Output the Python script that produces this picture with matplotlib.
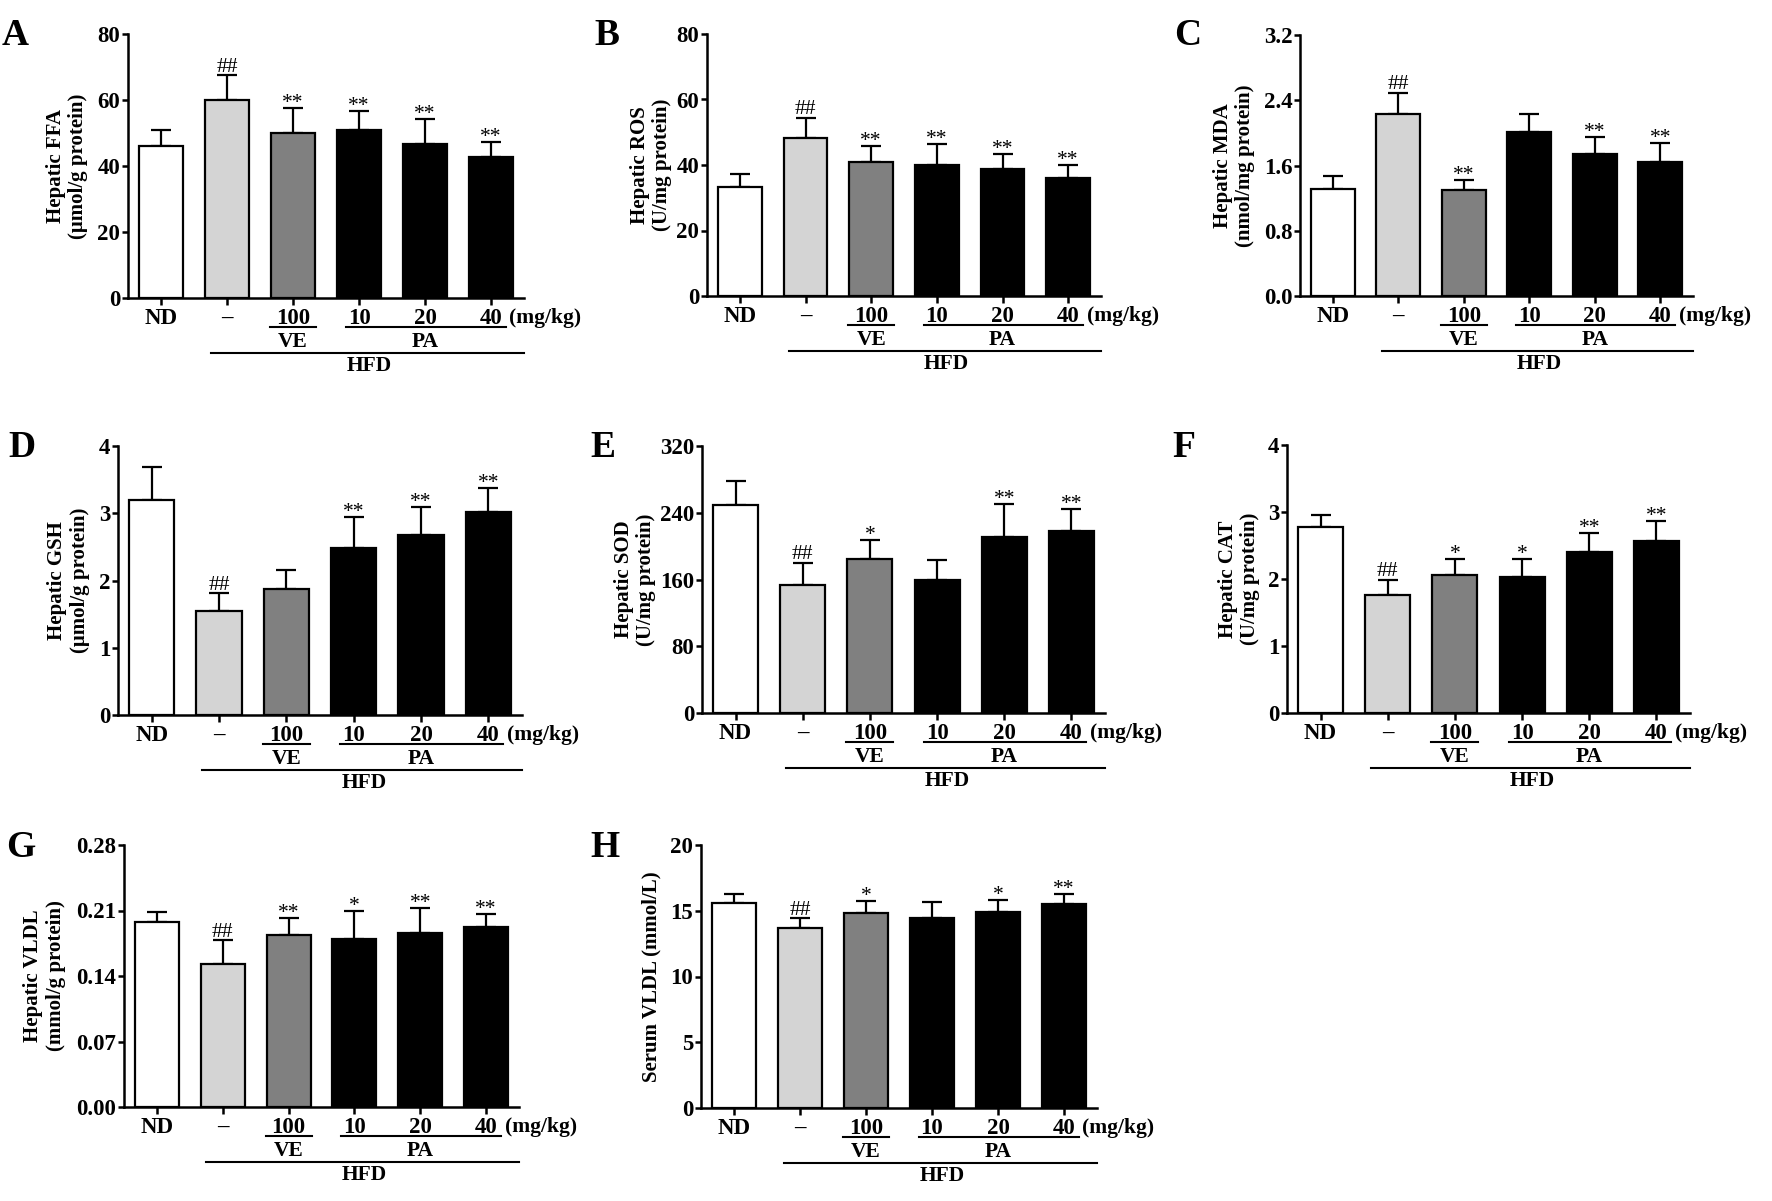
import matplotlib.pyplot as plt
from matplotlib.transforms import ScaledTranslation
from matplotlib.ticker import FormatStrFormatter

plt.rcParams['font.family'] = ['Liberation Serif', 'DejaVu Serif']
plt.rcParams['font.weight'] = 'bold'
plt.rcParams['axes.labelweight'] = 'bold'

# groups: normal diet, HFD control, HFD + VE 100, HFD + PA 10/20/40 (mg/kg)
groups = ['ND', '–', '100', '10', '20', '40']
bar_colors = ['white', '#d4d4d4', '#808080', 'black', 'black', 'black']

# values (mean, upper SD)
ffa_mean = [46.1, 60.0, 50.0, 50.9, 46.6, 42.7]
ffa_sd = [4.7, 7.5, 7.7, 5.8, 7.5, 4.7]
ffa_sig = ['', '##', '**', '**', '**', '**']

ros_mean = [33.4, 48.3, 40.8, 39.9, 38.7, 36.1]
ros_sd = [3.8, 6.1, 4.9, 6.6, 4.8, 3.8]
ros_sig = ['', '##', '**', '**', '**', '**']

mda_mean = [1.31, 2.23, 1.30, 2.01, 1.745, 1.647]
mda_sd = [0.165, 0.26, 0.125, 0.225, 0.205, 0.233]
mda_sig = ['', '##', '**', '', '**', '**']

gsh_mean = [3.20, 1.55, 1.87, 2.49, 2.67, 3.02]
gsh_sd = [0.49, 0.26, 0.28, 0.45, 0.42, 0.36]
gsh_sig = ['', '##', '', '**', '**', '**']

sod_mean = [249, 153, 184, 160, 211, 218]
sod_sd = [29.5, 27, 23.5, 23, 39.5, 27]
sod_sig = ['', '##', '*', '', '**', '**']

cat_mean = [2.77, 1.76, 2.06, 2.03, 2.40, 2.56]
cat_sd = [0.18, 0.23, 0.24, 0.27, 0.28, 0.30]
cat_sig = ['', '##', '*', '*', '**', '**']

hvldl_mean = [0.198, 0.153, 0.1843, 0.180, 0.1857, 0.1928]
hvldl_sd = [0.0105, 0.0255, 0.0178, 0.0292, 0.0267, 0.0139]
hvldl_sig = ['', '##', '**', '*', '**', '**']

svldl_mean = [15.57, 13.72, 14.81, 14.48, 14.89, 15.54]
svldl_sd = [0.68, 0.71, 0.91, 1.22, 0.93, 0.71]
svldl_sig = ['', '##', '*', '', '*', '**']

W, H = 1772, 1201
fig = plt.figure(figsize=(W / 100, H / 100), dpi=100)

# letter, ylabel, ticks, fmt, mean, sd, sig, box (left, right, top, bottom px), ylabel x, letter pos
panels = [
    ('A', 'Hepatic FFA\n(μmol/g protein)', [0, 20, 40, 60, 80], '%d', ffa_mean, ffa_sd, ffa_sig,
     (128, 524, 34, 298), -0.10, (2, 18)),
    ('B', 'Hepatic ROS\n(U/mg protein)', [0, 20, 40, 60, 80], '%d', ros_mean, ros_sd, ros_sig,
     (707, 1101, 34, 296), -0.088, (594, 18)),
    ('C', 'Hepatic MDA\n(nmol/mg protein)', [0, 0.8, 1.6, 2.4, 3.2], '%.1f', mda_mean, mda_sd, mda_sig,
     (1300, 1693, 35, 296), -0.115, (1174, 18)),
    ('D', 'Hepatic GSH\n(μmol/g protein)', [0, 1, 2, 3, 4], '%d', gsh_mean, gsh_sd, gsh_sig,
     (118, 522, 446, 715), -0.07, (8, 430)),
    ('E', 'Hepatic SOD\n(U/mg protein)', [0, 80, 160, 240, 320], '%d', sod_mean, sod_sd, sod_sig,
     (702, 1105, 446, 713), -0.114, (590, 430)),
    ('F', 'Hepatic CAT\n(U/mg protein)', [0, 1, 2, 3, 4], '%d', cat_mean, cat_sd, cat_sig,
     (1287, 1690, 445, 713), -0.066, (1172, 430)),
    ('G', 'Hepatic VLDL\n(mmol/g protein)', [0, 0.07, 0.14, 0.21, 0.28], '%.2f', hvldl_mean, hvldl_sd, hvldl_sig,
     (124, 519, 845, 1107), -0.148, (6, 830)),
    ('H', 'Serum VLDL (mmol/L)', [0, 5, 10, 15, 20], '%d', svldl_mean, svldl_sd, svldl_sig,
     (701, 1097, 845, 1108), -0.10, (590, 830)),
]


def below(ax, dy_px):
    # x in data units, y = dy_px pixels below the x axis
    return ax.get_xaxis_transform() + ScaledTranslation(0, -dy_px / 100, fig.dpi_scale_trans)


for letter, ylabel, ticks, fmt, mean, sd, sig, box, lab_x, lpos in panels:
    l, r, t, b = box
    ax = fig.add_axes([l / W, 1 - b / H, (r - l) / W, (b - t) / H])
    x = list(range(len(groups)))
    ax.bar(x, mean, width=0.67, color=bar_colors, edgecolor='black', linewidth=1.6, zorder=3)
    ax.errorbar(x, mean, yerr=[[0] * len(sd), sd], fmt='none', ecolor='black',
                elinewidth=1.6, capsize=7, capthick=1.6, zorder=2)
    for i, s in enumerate(sig):
        if s:
            off = 2.5 if s.startswith('#') else 0.0
            ax.annotate(s, xy=(i, mean[i] + sd[i]), xytext=(0, off), textcoords='offset points',
                        ha='center', va='baseline', fontsize=15.5, fontweight='normal')

    ax.set_xlim(-0.5, 5.5)
    ax.set_ylim(0, ticks[-1])
    ax.set_yticks(ticks)
    ax.yaxis.set_major_formatter(FormatStrFormatter(fmt))
    ax.set_xticks(x)
    ax.set_xticklabels(groups)
    for sp in ['top', 'right']:
        ax.spines[sp].set_visible(False)
    for sp in ['left', 'bottom']:
        ax.spines[sp].set_linewidth(1.8)
    ax.tick_params(axis='y', length=4.5, width=1.8, pad=1, labelsize=16.5)
    ax.tick_params(axis='x', length=5, width=1.8, pad=2, labelsize=16.5)
    ax.set_ylabel(ylabel, fontsize=15, linespacing=1.15)
    ax.yaxis.set_label_coords(lab_x, 0.5)

    # treatment grouping under the axis
    ax.plot([1.65, 2.35], [0, 0], transform=below(ax, 29), color='black', lw=1.5, clip_on=False)
    ax.plot([2.8, 5.22], [0, 0], transform=below(ax, 29), color='black', lw=1.5, clip_on=False)
    ax.plot([0.75, 5.5], [0, 0], transform=below(ax, 55), color='black', lw=1.5, clip_on=False)
    ax.text(2, 0, 'VE', transform=below(ax, 44), ha='center', va='center', fontsize=15.5)
    ax.text(4, 0, 'PA', transform=below(ax, 44), ha='center', va='center', fontsize=15.5)
    ax.text(3.15, 0, 'HFD', transform=below(ax, 68), ha='center', va='center', fontsize=15.5)
    ax.text(5.28, 0, '(mg/kg)', transform=below(ax, 20), ha='left', va='center', fontsize=15.5)

    fig.text(lpos[0] / W, 1 - lpos[1] / H, letter, ha='left', va='top', fontsize=27)

fig.savefig('out.png', dpi=100, facecolor='white')
